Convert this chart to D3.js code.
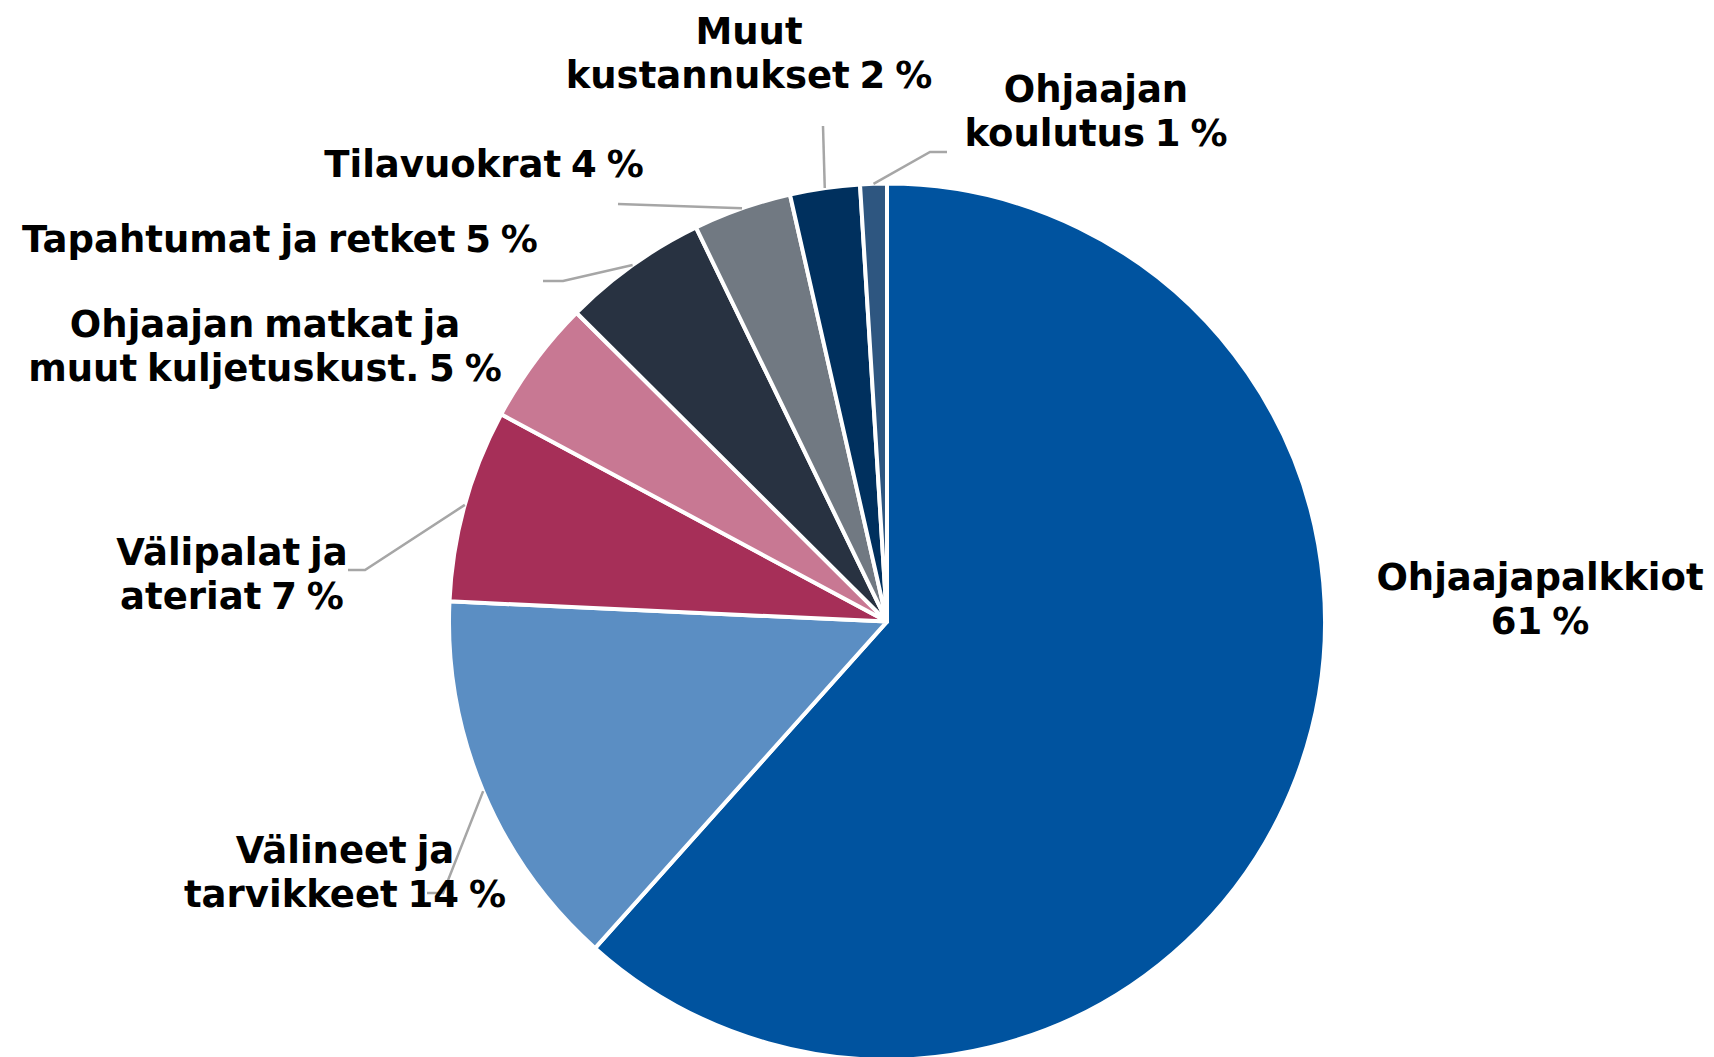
<!DOCTYPE html>
<html><head><meta charset="utf-8">
<script src="https://cdn.jsdelivr.net/npm/d3@7"></script>
<style>
html,body{margin:0;padding:0;background:#fff;}
svg text{font-family:"DejaVu Sans",Verdana,sans-serif;font-weight:bold;font-size:37px;fill:#000;word-spacing:-3px;}
</style></head>
<body><svg id="chart" width="1714" height="1057"></svg>
<script>
// Data
const categories = ["Ohjaajapalkkiot","Välineet ja tarvikkeet","Välipalat ja ateriat","Ohjaajan matkat ja muut kuljetuskust.","Tapahtumat ja retket","Tilavuokrat","Muut kustannukset","Ohjaajan koulutus"];
const values = [61.5, 14.1, 7.1, 4.6, 5.35, 3.62, 2.57, 0.98];
const labelLines = [
  ["Ohjaajapalkkiot","61 %"],
  ["Välineet ja","tarvikkeet 14 %"],
  ["Välipalat ja","ateriat 7 %"],
  ["Ohjaajan matkat ja","muut kuljetuskust. 5 %"],
  ["Tapahtumat ja retket 5 %"],
  ["Tilavuokrat 4 %"],
  ["Muut","kustannukset 2 %"],
  ["Ohjaajan","koulutus 1 %"]
];
const colors = ["#00539F","#5B8EC3","#A62F58","#C87893","#283241","#717982","#00305E","#2E5680"];

// Layout (label anchor: center x, first baseline; leader elbow/end points)
const labelPos = [
  {x:1540, y:590},
  {x:345, y:863},
  {x:232, y:565},
  {x:265, y:337},
  {x:280, y:252},
  {x:484, y:177},
  {x:749, y:44},
  {x:1096, y:102}
];
const leaders = [
  null,
  [[443,893],[427,893]],
  [[365,570],[348,570]],
  null,
  [[563,281],[543,281]],
  [[618,204]],
  [[823,126]],
  [[930,152],[947,152]]
];

const svg = d3.select("#chart");
const cx = 887, cy = 621.6, R = 438, lineH = 44;
const g = svg.append("g").attr("transform",`translate(${cx},${cy})`);

const pie = d3.pie().sort(null).value(d=>d).startAngle(0).endAngle(2*Math.PI);
const arcs = pie(values);
const arc = d3.arc().innerRadius(0).outerRadius(R);

g.selectAll("path.slice").data(arcs).enter().append("path")
  .attr("class","slice")
  .attr("d",arc)
  .attr("fill",(d,i)=>colors[i])
  .attr("stroke","#fff").attr("stroke-width",4).attr("stroke-linejoin","round");

// leader lines
arcs.forEach((d,i)=>{
  if(!leaders[i]) return;
  const a = (d.startAngle+d.endAngle)/2;
  const p0 = [cx + R*Math.sin(a), cy - R*Math.cos(a)];
  const pts = [p0].concat(leaders[i]);
  svg.append("path")
    .attr("d", d3.line()(pts))
    .attr("fill","none").attr("stroke","#A6A6A6").attr("stroke-width",2.5);
});

// labels
labelLines.forEach((lines,i)=>{
  const t = svg.append("text").attr("text-anchor","middle")
    .attr("x",labelPos[i].x).attr("y",labelPos[i].y);
  lines.forEach((ln,j)=>{
    t.append("tspan").attr("x",labelPos[i].x).attr("dy", j===0?0:lineH).text(ln);
  });
});
</script></body></html>
